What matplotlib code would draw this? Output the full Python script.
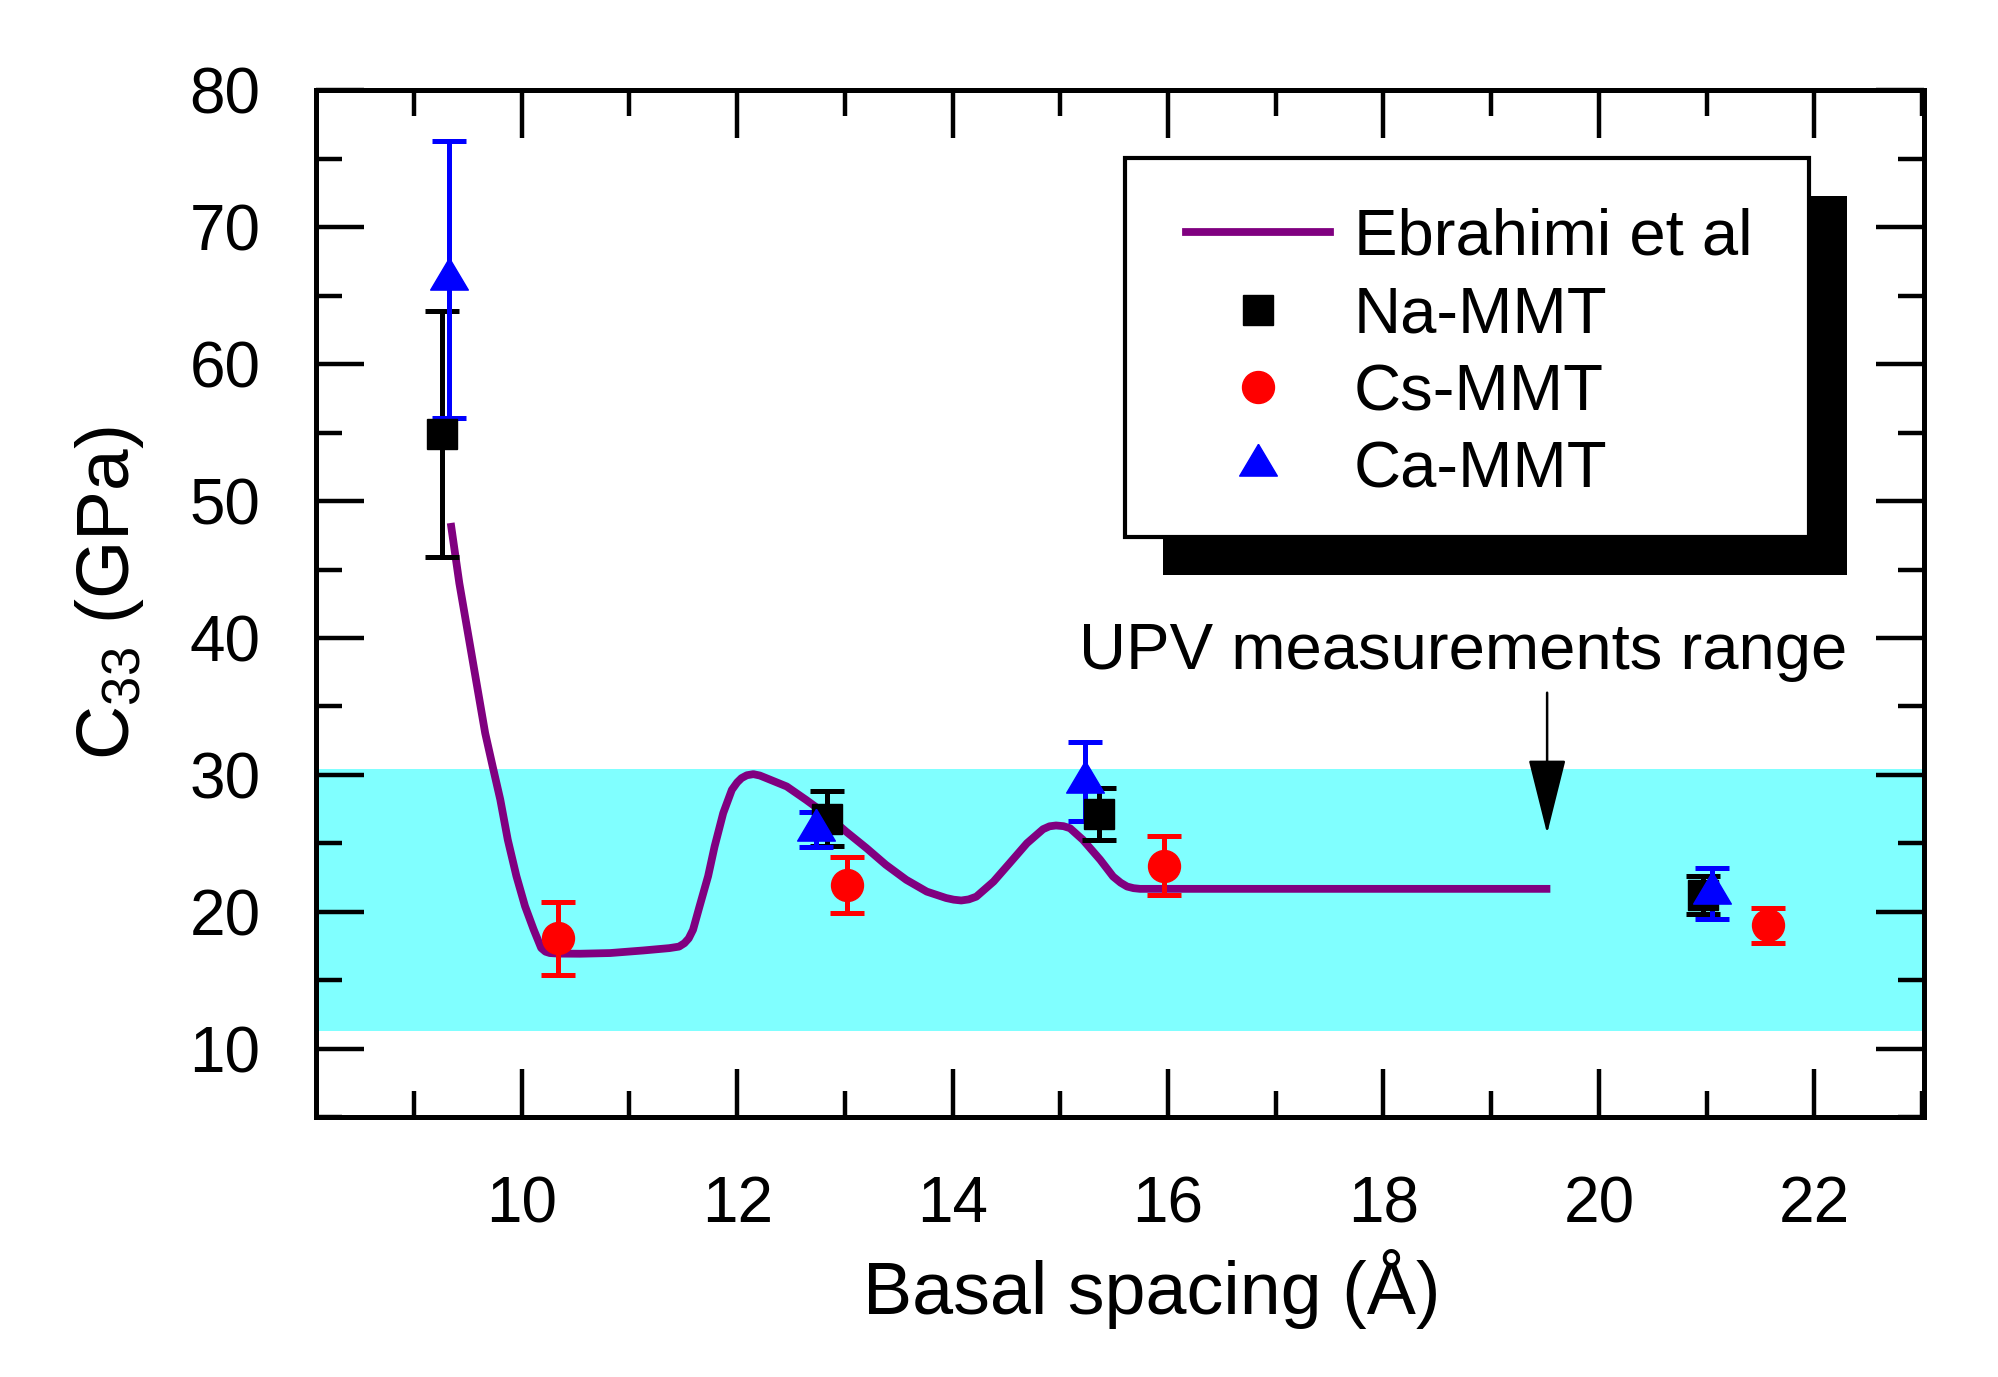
import matplotlib
matplotlib.use("Agg")
import matplotlib.pyplot as plt
from matplotlib.lines import Line2D
from matplotlib.patches import Rectangle
from matplotlib.ticker import MultipleLocator

plt.rcParams["font.family"] = ["Liberation Sans", "DejaVu Sans"]
plt.rcParams["mathtext.fontset"] = "custom"
plt.rcParams["mathtext.rm"] = "Liberation Sans"
plt.rcParams["mathtext.default"] = "regular"

# Ebrahimi et al curve
line_x = [9.34, 9.42, 9.50, 9.58, 9.66, 9.73, 9.80, 9.87, 9.95, 10.03, 10.11, 10.18,
          10.22, 10.26, 10.34, 10.54, 10.82, 11.13, 11.37, 11.46, 11.51, 11.55, 11.59,
          11.65, 11.73, 11.79, 11.87, 11.95, 12.00, 12.04, 12.09, 12.15, 12.21, 12.27,
          12.46, 12.64, 12.83, 13.01, 13.20, 13.38, 13.57, 13.76, 13.94, 14.01, 14.08,
          14.15, 14.22, 14.38, 14.53, 14.69, 14.84, 14.90, 14.96, 15.03, 15.09, 15.21,
          15.37, 15.49, 15.56, 15.62, 15.68, 15.74, 16.30, 19.55]
line_y = [48.4, 44.0, 40.35, 36.7, 33.05, 30.6, 28.2, 25.25, 22.6, 20.4, 18.7, 17.35,
          17.08, 16.98, 16.94, 16.93, 16.98, 17.17, 17.34, 17.45, 17.7, 18.05, 18.68,
          20.38, 22.6, 24.76, 27.2, 28.9, 29.45, 29.76, 29.97, 30.05, 29.95, 29.76,
          29.15, 28.17, 27.08, 25.86, 24.65, 23.43, 22.33, 21.47, 21.0, 20.88, 20.82,
          20.9, 21.1, 22.2, 23.55, 25.0, 26.03, 26.24, 26.3, 26.25, 26.1, 25.25,
          23.8, 22.57, 22.12, 21.84, 21.72, 21.67, 21.67, 21.67]

na_x = [9.26, 12.83, 15.36, 20.97]
na_y = [54.9, 26.8, 27.15, 21.2]
na_err = [9.0, 2.0, 1.9, 1.4]

cs_x = [10.34, 13.02, 15.96, 21.57]
cs_y = [18.05, 21.95, 23.35, 19.0]
cs_err = [2.65, 2.05, 2.15, 1.3]

ca_x = [9.32, 12.73, 15.23, 21.05]
ca_y = [66.2, 26.0, 29.5, 21.35]
ca_err = [10.1, 1.3, 2.9, 1.85]

band_lo, band_hi = 11.3, 30.45
upv_x = 19.52
upv_from, upv_to = 36.0, 25.7

x_ticks = [10, 12, 14, 16, 18, 20, 22]
y_ticks = [10, 20, 30, 40, 50, 60, 70, 80]

purple = "#800080"
tri = [(0, 1), (-0.89, -0.5), (0.89, -0.5), (0, 1)]

fig = plt.figure(figsize=(19.98, 13.77), dpi=100)
ax = fig.add_axes([0.1582, 0.1888, 0.8048, 0.7455])

ax.axhspan(band_lo, band_hi, color="#80FFFF", lw=0, zorder=0)
ax.plot(line_x, line_y, color=purple, lw=5.6, zorder=2,
        solid_joinstyle="round", solid_capstyle="butt")

eb = dict(elinewidth=3.6, capsize=11.9, capthick=3.6, ls="none", zorder=3)
ax.errorbar(na_x, na_y, yerr=na_err, marker="s", ms=22, color="black", **eb)
ax.errorbar(cs_x, cs_y, yerr=cs_err, marker="o", ms=23, color="red", **eb)
ax.errorbar(ca_x, ca_y, yerr=ca_err, marker=tri, ms=30.5, color="blue", **eb)

ax.annotate("", xy=(upv_x, upv_to), xytext=(upv_x, upv_from),
            arrowprops=dict(arrowstyle="-|>,head_length=2.4,head_width=0.6",
                            color="black", lw=1.8, shrinkA=0, shrinkB=0,
                            mutation_scale=20), zorder=4)
ax.text(18.74, 37.7, "UPV measurements range", ha="center", va="baseline",
        fontsize=47, zorder=4)

ax.set_xlim(8.09, 23.02)
ax.set_ylim(5, 80)
ax.set_xticks(x_ticks)
ax.set_yticks(y_ticks)
ax.xaxis.set_minor_locator(MultipleLocator(1))
ax.yaxis.set_minor_locator(MultipleLocator(5))
ax.tick_params(which="both", direction="in", top=True, right=True, width=3.2,
               labelsize=46)
ax.tick_params(which="major", length=34.5)
ax.tick_params(which="minor", length=19)
ax.tick_params(axis="x", pad=42)
ax.tick_params(axis="y", pad=40)
for sp in ax.spines.values():
    sp.set_linewidth(3.6)
    sp.set_zorder(10)

ax.set_xlabel("Basal spacing (Å)", fontsize=53, labelpad=10, x=0.52)
ax.set_ylabel("C$_{33}$ (GPa)", fontsize=54, labelpad=31, y=0.51)

# legend box with hard black shadow
x0, y0, w, h = 0.503, 0.565, 0.4255, 0.369
ax.add_patch(Rectangle((x0 + 0.0236, y0 - 0.037), w, h, transform=ax.transAxes,
                       fc="black", ec="none", zorder=5, clip_on=False))
ax.add_patch(Rectangle((x0, y0), w, h, transform=ax.transAxes,
                       fc="white", ec="black", lw=3, zorder=6, clip_on=False))

handles = [
    Line2D([], [], color=purple, lw=5.6),
    Line2D([], [], ls="none", marker="s", ms=22, color="black"),
    Line2D([], [], ls="none", marker="o", ms=23, color="red"),
    Line2D([], [], ls="none", marker=tri, ms=30.5, color="blue"),
]
labels = ["Ebrahimi et al", "Na-MMT", "Cs-MMT", "Ca-MMT"]
leg = ax.legend(handles, labels, loc="center left", bbox_to_anchor=(0.541, 0.743),
                frameon=False, fontsize=47, handlelength=2.2, handletextpad=0.37,
                labelspacing=0.27, borderpad=0, borderaxespad=0, numpoints=1)
leg.set_zorder(7)

fig.savefig("out.png", dpi=100)
